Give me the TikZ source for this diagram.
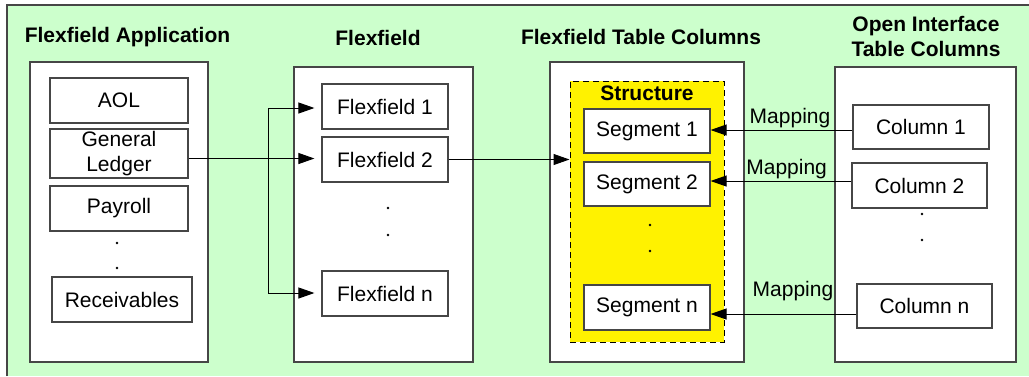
\documentclass[tikz,border=0pt]{standalone}
\usepackage{fontspec}
\setmainfont{Liberation Sans}
\usetikzlibrary{arrows.meta}
\definecolor{bggreen}{RGB}{204,255,204}
\definecolor{boxline}{RGB}{70,70,70}
\tikzset{
  panel/.style={draw=boxline, line width=1.2pt, fill=white, inner sep=0pt},
  item/.style={draw=boxline, line width=1.2pt, fill=white, inner sep=0pt, font=\fontsize{21}{25}\selectfont, align=center},
  title/.style={font=\bfseries\fontsize{21}{25}\selectfont, align=center, inner sep=0pt},
  lbl/.style={font=\fontsize{21}{25}\selectfont, inner sep=2pt},
  arr/.style={draw=black, line width=1pt, -{Triangle[length=16pt,width=11pt]}},
  plain/.style={draw=black, line width=1pt},
  dot/.style={fill=black}
}
\begin{document}
\begin{tikzpicture}[x=1pt,y=-1pt]
\useasboundingbox (0,0) rectangle (1029,376);
\fill[white] (0,0) rectangle (1029,376);
\fill[bggreen] (7,5) rectangle (1029,376);
\draw[boxline, line width=1.2pt] (7,376) -- (7,5) -- (1029,5);

% titles
\node[title] (t1) at (127.5,37) {Flexfield Application};
\node[title] (t2) at (378,38) {Flexfield};
\node[title] (t3) at (641,37) {Flexfield Table Columns};
\node[title] (t4) at (926,36.5) {Open Interface\\Table Columns};

% panels
\node[panel, minimum width=178pt, minimum height=300pt] (p1) at (119,212) {};
\node[panel, minimum width=179pt, minimum height=295pt] (p2) at (383.5,214.5) {};
\node[panel, minimum width=194pt, minimum height=300pt] (p3) at (647,212) {};
\node[panel, minimum width=181pt, minimum height=295pt] (p4) at (925.5,214.5) {};

% structure
\node[draw=black, line width=1pt, dash pattern=on 6pt off 4pt, fill=yellow, minimum width=154pt, minimum height=261pt, inner sep=0pt] (st) at (647,211.5) {};
\node[title] (stt) at (647,93) {Structure};

% column 1 items
\node[item, minimum width=138pt, minimum height=45pt] (aol) at (119,100.5) {AOL};
\node[item, minimum width=138pt, minimum height=49pt] (gl) at (119,153.5) {General\\Ledger};
\node[item, minimum width=138pt, minimum height=45pt] (pay) at (119,208.5) {Payroll};
\node[item, minimum width=140pt, minimum height=45pt] (rec) at (122,299.5) {Receivables};
\fill[dot] (117,243) circle (1.3pt) (117,268) circle (1.3pt);

% flexfields
\node[item, minimum width=126pt, minimum height=45pt] (ff1) at (385,106.5) {Flexfield 1};
\node[item, minimum width=126pt, minimum height=45pt] (ff2) at (385,159.5) {Flexfield 2};
\node[item, minimum width=126pt, minimum height=45pt] (ffn) at (385,293.5) {Flexfield n};
\fill[dot] (388,208) circle (1.3pt) (388,235) circle (1.3pt);

% segments
\node[item, minimum width=126pt, minimum height=44pt] (s1) at (647,131) {Segment 1};
\node[item, minimum width=126pt, minimum height=44pt] (s2) at (647,184) {Segment 2};
\node[item, minimum width=126pt, minimum height=45pt] (sn) at (647,307.5) {Segment n};
\fill[dot] (650,225) circle (1.3pt) (650,251) circle (1.3pt);

% open interface columns
\node[item, minimum width=136pt, minimum height=44pt] (c1) at (921,127) {Column 1};
\node[item, minimum width=135pt, minimum height=45pt] (c2) at (919.5,185.5) {Column 2};
\node[item, minimum width=135pt, minimum height=44pt] (cn) at (924.5,306) {Column n};
\fill[dot] (922,214) circle (1.3pt) (922,240) circle (1.3pt);

% connectors
\coordinate (jt) at (268,108);
\coordinate (jb) at (268,293);
\draw[arr, shorten >=7pt] (gl.east |- 0,158.5) -- (ff2.west |- 0,158.5);
\draw[plain] (jt) -- (jb);
\draw[arr, shorten >=7pt] (jt) -- (jt -| ff1.west);
\draw[arr, shorten >=7pt] (jb) -- (jb -| ffn.west);
\draw[arr] (ff2.east) -- (ff2.east -| st.west);

\draw[arr] (c1.west |- 0,130) -- node[lbl, pos=0.44, above] {Mapping} (s1.east |- 0,130);
\draw[arr] (c2.west |- 0,181) -- node[lbl, pos=0.46, above] {Mapping} (s2.east |- 0,181);
\draw[arr] (cn.west |- 0,314) -- node[lbl, pos=0.435, above, yshift=11pt] {Mapping} (sn.east |- 0,314);
\end{tikzpicture}
\end{document}
